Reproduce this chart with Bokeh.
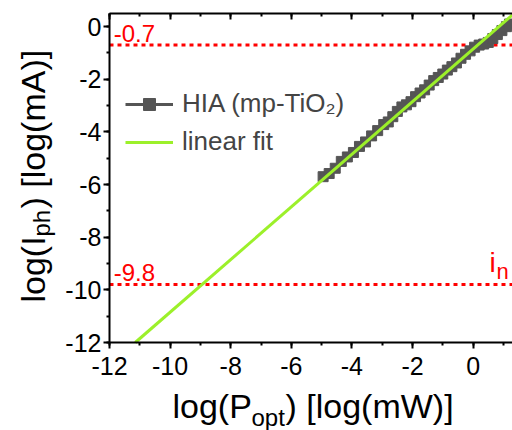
import math
from bokeh.plotting import figure
from bokeh.models import Range1d, LinearAxis, Label, Legend, LegendItem, SingleIntervalTicker
from bokeh.embed import file_html
from bokeh.resources import INLINE

FONT = "Liberation Sans"

# measured data: log(P_opt) [log(mW)] vs log(I_ph) [log(mA)]
hia_x = [-4.95, -4.75, -4.55, -4.35, -4.15, -3.95, -3.75, -3.55, -3.35, -3.15,
         -2.95, -2.8, -2.65, -2.5, -2.35, -2.2, -2.05, -1.9, -1.75, -1.6,
         -1.45, -1.3, -1.15, -1.0, -0.85, -0.7, -0.55, -0.4, -0.25, -0.1,
         0.05, 0.2, 0.35, 0.5, 0.65, 0.8, 0.95, 1.1, 1.2]
hia_y = [-5.70, -5.58, -5.38, -5.12, -4.95, -4.78, -4.55, -4.38, -4.15, -3.95,
         -3.72, -3.62, -3.42, -3.22, -3.05, -2.97, -2.85, -2.66, -2.52, -2.40,
         -2.22, -2.05, -1.93, -1.80, -1.65, -1.52, -1.38, -1.20, -1.05, -0.92,
         -0.78, -0.70, -0.66, -0.60, -0.45, -0.30, -0.15, 0.00, 0.10]

# linear fit (as drawn inside the axes box)
fit_x = [-11.15, 1.3]
fit_y = [-12.0, 0.45]

noise_level = -9.8
sat_level = -0.7

x_min, x_max = -12, 1.3
y_min, y_max = -12, 0.5
x_ticks = [-12, -10, -8, -6, -4, -2, 0]
y_ticks = [-12, -10, -8, -6, -4, -2, 0]
tick_text = {t: str(t) for t in x_ticks}

W, H = 512, 430
FL, FT, FB = 109, 13, 342          # axes box edges in canvas px (right edge = canvas edge)
sx = (W - FL) / (x_max - x_min)
sy = (FB - FT) / (y_max - y_min)
xr = Range1d(x_min - FL / sx, x_max)
yr = Range1d(y_min - (H - FB) / sy, y_max + FT / sy)

p = figure(width=W, height=H, output_backend="svg", toolbar_location=None,
           x_range=xr, y_range=yr, x_axis_location=None, y_axis_location=None,
           min_border=0, min_border_left=0, min_border_right=0,
           min_border_top=0, min_border_bottom=0)
p.grid.visible = False
p.outline_line_color = None
p.background_fill_color = "white"
p.border_fill_color = "white"

def style_axis(ax, labels=True, inward=False):
    ax.ticker = SingleIntervalTicker(interval=2, num_minor_ticks=2)
    ax.axis_line_width = 2
    ax.axis_line_color = "black"
    ax.major_tick_line_width = 2
    ax.minor_tick_line_width = 2
    if inward:
        ax.major_tick_in, ax.major_tick_out = 6, 0
        ax.minor_tick_in, ax.minor_tick_out = 3, 0
    else:
        ax.major_tick_in, ax.major_tick_out = 0, 6
        ax.minor_tick_in, ax.minor_tick_out = 0, 3
    ax.major_label_text_font = FONT
    ax.major_label_text_color = "black"
    ax.major_label_overrides = dict(tick_text)
    if labels:
        ax.major_label_text_font_size = "25px"
    else:
        ax.major_label_text_alpha = 0
        ax.major_label_text_font_size = "1px"
        ax.major_label_standoff = 0

xb = LinearAxis(fixed_location=y_min, bounds=(x_min, x_max))
style_axis(xb)
xb.major_label_standoff = 8
p.add_layout(xb, "below")
yl = LinearAxis(fixed_location=x_min, bounds=(y_min, y_max))
style_axis(yl)
yl.major_label_standoff = 2
p.add_layout(yl, "left")
xt = LinearAxis(fixed_location=y_max, bounds=(x_min, x_max))
style_axis(xt, labels=False, inward=True)
p.add_layout(xt, "above")

# reference levels (dotted red)
for lvl in (sat_level, noise_level):
    p.line([x_min, x_max], [lvl, lvl], line_color="#FF0000", line_width=3, line_dash="4 4")

r_line = p.line(hia_x, hia_y, line_color="#555555", line_width=3)
r_pts = p.scatter(hia_x, hia_y, marker="square", size=10, fill_color="#555555",
                  line_color="#555555")
r_fit = p.line(fit_x, fit_y, line_color="#9CF02A", line_width=3)

legend = Legend(items=[LegendItem(label="HIA (mp-TiO\u2082)", renderers=[r_line, r_pts]),
                       LegendItem(label="linear fit", renderers=[r_fit])],
                location=(125, 273), padding=0, margin=0, spacing=7,
                glyph_width=48, glyph_height=30, label_height=30, label_standoff=9,
                label_text_font=FONT, label_text_font_size="26px",
                border_line_color=None, background_fill_alpha=0)
p.add_layout(legend)

def lab(text, x, y, size, color="black", angle=0, units="screen", yoff=0):
    p.add_layout(Label(x=x, y=y, x_units=units, y_units=units, text=text,
                       text_font=FONT, text_font_size=size, text_color=color,
                       angle=angle, text_baseline="alphabetic", text_align="left",
                       y_offset=yoff))

# red annotations
lab("-0.7", -11.86, sat_level, "24px", color="#FF0000", units="data", yoff=12)
lab("-9.8", -11.86, noise_level, "24px", color="#FF0000", units="data", yoff=12)
lab("i", 489, 168, "28px", color="#FF0000")
lab("n", 496, 159, "22px", color="#FF0000")

# x axis title (screen px from canvas bottom-left)
lab("log(P", 172, 25, "34px")
lab("opt", 251, 13, "24px")
lab(") [log(mW)]", 285, 25, "34px")
# y axis title
lab("log(I", 32, 128, "34px", angle=math.pi / 2)
lab("ph", 41, 194, "24px", angle=math.pi / 2)
lab(") [log(mA)]", 32, 222, "34px", angle=math.pi / 2)

open("out.html", "w").write(file_html(p, INLINE))
